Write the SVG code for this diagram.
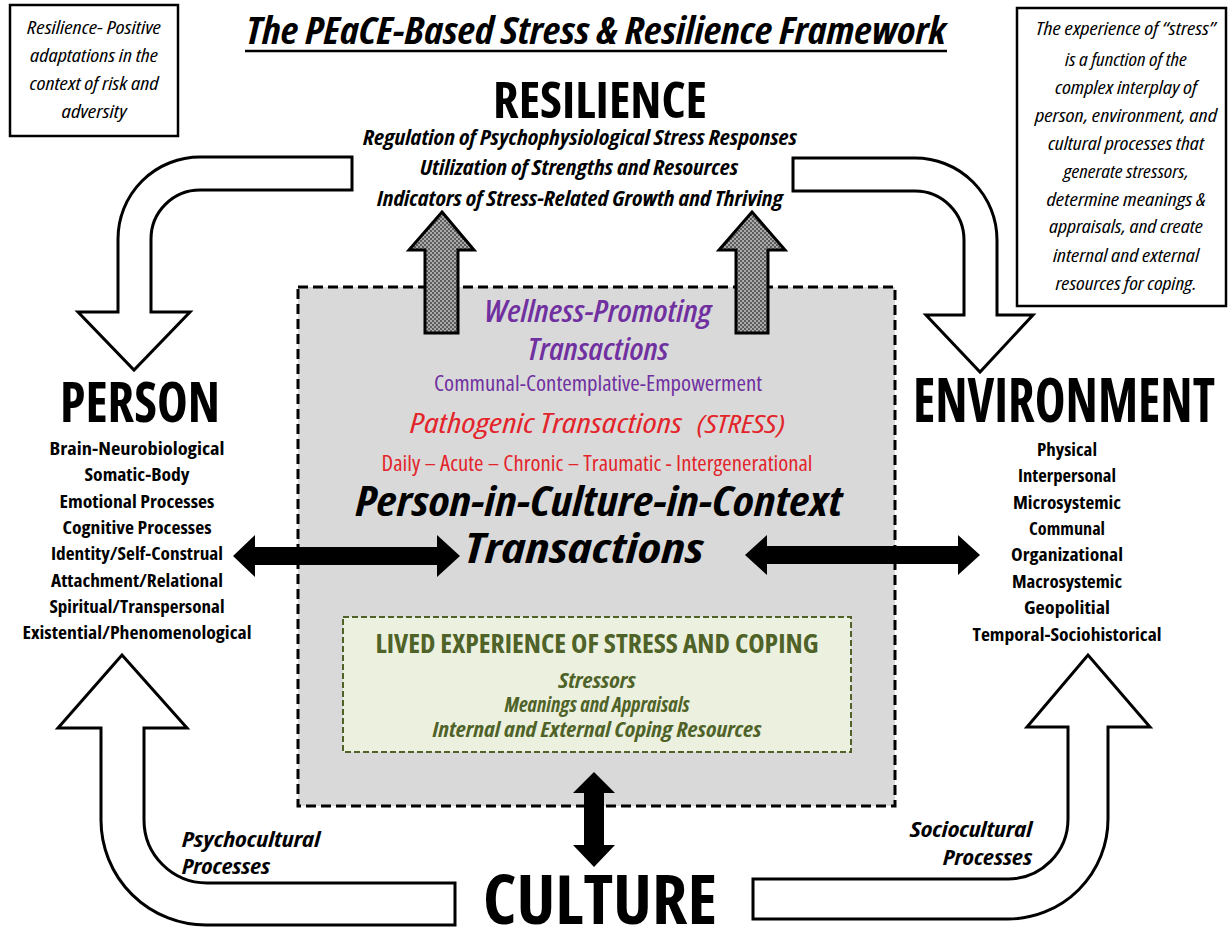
<svg xmlns="http://www.w3.org/2000/svg" width="1229" height="930" viewBox="0 0 1229 930">
  <style>
    text { font-family: "Liberation Sans Narrow", "Open Sans", "Liberation Sans", sans-serif; font-stretch: condensed; fill: #000; }
    .b { font-weight: bold; }
    .i { font-style: italic; }
    .m { text-anchor: middle; }
    .e { text-anchor: end; }
    .note { font-size: 19px; font-style: italic; }
    .big { font-weight: bold; }
    .sub { font-size: 21px; font-weight: bold; font-style: italic; }
    .list { font-size: 18px; font-weight: bold; text-anchor: middle; }
    .purple { fill: #7030a0; }
    .red { fill: #e3242b; }
    .olive { fill: #4f6228; }
    .semi { font-weight: 600; }
    .med { font-weight: 500; }
    .frame { fill: #fff; stroke: #000; stroke-width: 2.5; }
    .flow { fill: #fff; stroke: #000; stroke-width: 3; stroke-linejoin: miter; }
    .solid { fill: #000; stroke: none; }
    .up { fill: url(#dots); stroke: #000; stroke-width: 3; }
  </style>
  <defs>
    <pattern id="dots" width="4" height="4" patternUnits="userSpaceOnUse">
      <rect width="4" height="4" fill="#ababab"/>
      <rect width="2" height="2" fill="#5c5c5c"/>
      <rect x="2" y="2" width="2" height="2" fill="#5c5c5c"/>
    </pattern>
  </defs>
  <rect width="1229" height="930" fill="#fff"/>

  <!-- title -->
  <g id="title">
    <text class="b i m" x="596" y="44" font-size="38" textLength="700" lengthAdjust="spacingAndGlyphs">The PEaCE-Based Stress &amp; Resilience Framework</text>
    <line x1="245" y1="51" x2="947" y2="51" stroke="#000" stroke-width="2.5"/>
  </g>

  <!-- definition notes -->
  <g id="note-resilience">
    <rect class="frame" x="10" y="5" width="168" height="131"/>
    <text class="note m" x="94" y="34" textLength="134" lengthAdjust="spacingAndGlyphs">Resilience- Positive</text>
    <text class="note m" x="94" y="62" textLength="128" lengthAdjust="spacingAndGlyphs">adaptations in the</text>
    <text class="note m" x="94" y="90" textLength="129" lengthAdjust="spacingAndGlyphs">context of risk and</text>
    <text class="note m" x="94" y="118" textLength="65" lengthAdjust="spacingAndGlyphs">adversity</text>
  </g>
  <g id="note-stress">
    <rect class="frame" x="1017" y="8" width="209" height="298"/>
    <text class="note m" x="1126" y="35" textLength="180" lengthAdjust="spacingAndGlyphs">The experience of “stress”</text>
    <text class="note m" x="1126" y="66" textLength="122" lengthAdjust="spacingAndGlyphs">is a function of the</text>
    <text class="note m" x="1126" y="94" textLength="142" lengthAdjust="spacingAndGlyphs">complex interplay of</text>
    <text class="note m" x="1126" y="122" textLength="182" lengthAdjust="spacingAndGlyphs">person, environment, and</text>
    <text class="note m" x="1126" y="150" textLength="156" lengthAdjust="spacingAndGlyphs">cultural processes that</text>
    <text class="note m" x="1126" y="178" textLength="125" lengthAdjust="spacingAndGlyphs">generate stressors,</text>
    <text class="note m" x="1126" y="206" textLength="159" lengthAdjust="spacingAndGlyphs">determine meanings &amp;</text>
    <text class="note m" x="1126" y="233" textLength="154" lengthAdjust="spacingAndGlyphs">appraisals, and create</text>
    <text class="note m" x="1126" y="262" textLength="146" lengthAdjust="spacingAndGlyphs">internal and external</text>
    <text class="note m" x="1126" y="290" textLength="141" lengthAdjust="spacingAndGlyphs">resources for coping.</text>
  </g>

  <!-- central transaction field -->
  <g id="transactions">
    <rect x="298" y="287" width="597" height="519" fill="#d9d9d9" stroke="#000" stroke-width="3" stroke-dasharray="10 5"/>
    <text class="i m purple semi" x="598" y="322" font-size="30" textLength="227" lengthAdjust="spacingAndGlyphs">Wellness-Promoting</text>
    <text class="i m purple semi" x="598" y="360" font-size="30" textLength="141" lengthAdjust="spacingAndGlyphs">Transactions</text>
    <text class="m purple med" x="598" y="391" font-size="21" textLength="328" lengthAdjust="spacingAndGlyphs">Communal-Contemplative-Empowerment</text>
    <text class="i red med" x="410" y="433" font-size="28" textLength="272" lengthAdjust="spacingAndGlyphs">Pathogenic Transactions</text>
    <text class="i red" x="697" y="433" font-size="26" textLength="88" lengthAdjust="spacingAndGlyphs">(STRESS)</text>
    <text class="m red med" x="597" y="471" font-size="22" textLength="431" lengthAdjust="spacingAndGlyphs">Daily – Acute – Chronic – Traumatic - Intergenerational</text>
    <text class="b i m" x="599" y="516" font-size="41" textLength="487" lengthAdjust="spacingAndGlyphs">Person-in-Culture-in-Context</text>
    <text class="b i m" x="584" y="563" font-size="41" textLength="239" lengthAdjust="spacingAndGlyphs">Transactions</text>
  </g>

  <g id="lived-experience">
    <rect x="343" y="617" width="508" height="135" fill="#ebf1de" stroke="#4f6228" stroke-width="2" stroke-dasharray="6 3"/>
    <text class="b m olive" x="597" y="653" font-size="26" textLength="443" lengthAdjust="spacingAndGlyphs">LIVED EXPERIENCE OF STRESS AND COPING</text>
    <text class="b i m olive" x="597" y="688" font-size="21" textLength="77" lengthAdjust="spacingAndGlyphs">Stressors</text>
    <text class="b i m olive" x="597" y="712" font-size="21" textLength="185" lengthAdjust="spacingAndGlyphs">Meanings and Appraisals</text>
    <text class="b i m olive" x="597" y="737" font-size="21" textLength="329" lengthAdjust="spacingAndGlyphs">Internal and External Coping Resources</text>
  </g>

  <!-- outcome node -->
  <g id="resilience">
    <text class="big m" x="600" y="118" font-size="50" textLength="214" lengthAdjust="spacingAndGlyphs">RESILIENCE</text>
    <text class="sub m" x="580" y="145" textLength="434" lengthAdjust="spacingAndGlyphs">Regulation of Psychophysiological Stress Responses</text>
    <text class="sub m" x="579" y="175" textLength="318" lengthAdjust="spacingAndGlyphs">Utilization of Strengths and Resources</text>
    <text class="sub m" x="580" y="206" textLength="406" lengthAdjust="spacingAndGlyphs">Indicators of Stress-Related Growth and Thriving</text>
  </g>

  <g id="person">
    <text class="big m" x="140" y="422" font-size="56" textLength="160" lengthAdjust="spacingAndGlyphs">PERSON</text>
    <text class="list" x="137" y="455" textLength="175" lengthAdjust="spacingAndGlyphs">Brain-Neurobiological</text>
    <text class="list" x="137" y="481" textLength="105" lengthAdjust="spacingAndGlyphs">Somatic-Body</text>
    <text class="list" x="137" y="508" textLength="155" lengthAdjust="spacingAndGlyphs">Emotional Processes</text>
    <text class="list" x="137" y="534" textLength="149" lengthAdjust="spacingAndGlyphs">Cognitive Processes</text>
    <text class="list" x="137" y="560" textLength="172" lengthAdjust="spacingAndGlyphs">Identity/Self-Construal</text>
    <text class="list" x="137" y="587" textLength="172" lengthAdjust="spacingAndGlyphs">Attachment/Relational</text>
    <text class="list" x="137" y="613" textLength="175" lengthAdjust="spacingAndGlyphs">Spiritual/Transpersonal</text>
    <text class="list" x="137" y="639" textLength="229" lengthAdjust="spacingAndGlyphs">Existential/Phenomenological</text>
  </g>

  <g id="environment">
    <text class="big m" x="1064" y="422" font-size="60" textLength="302" lengthAdjust="spacingAndGlyphs">ENVIRONMENT</text>
    <text class="list" x="1067" y="456" textLength="60" lengthAdjust="spacingAndGlyphs">Physical</text>
    <text class="list" x="1067" y="482" textLength="98" lengthAdjust="spacingAndGlyphs">Interpersonal</text>
    <text class="list" x="1067" y="509" textLength="108" lengthAdjust="spacingAndGlyphs">Microsystemic</text>
    <text class="list" x="1067" y="535" textLength="76" lengthAdjust="spacingAndGlyphs">Communal</text>
    <text class="list" x="1067" y="561" textLength="112" lengthAdjust="spacingAndGlyphs">Organizational</text>
    <text class="list" x="1067" y="588" textLength="110" lengthAdjust="spacingAndGlyphs">Macrosystemic</text>
    <text class="list" x="1067" y="614" textLength="86" lengthAdjust="spacingAndGlyphs">Geopolitial</text>
    <text class="list" x="1067" y="641" textLength="189" lengthAdjust="spacingAndGlyphs">Temporal-Sociohistorical</text>
  </g>

  <g id="culture">
    <text class="big m" x="600" y="924" font-size="68" textLength="234" lengthAdjust="spacingAndGlyphs">CULTURE</text>
  </g>

  <!-- connectors -->
  <g id="connectors">
    <!-- resilience feeding back to person and environment -->
    <path class="flow" d="M352,157 L200,157 A82,82 0 0 0 118,239 L118,312 L78,312 L134,370 L190,312 L151,312 L151,239 A49,49 0 0 1 200,190 L352,190 Z"/>
    <path class="flow" d="M793,158 L915,158 A82,82 0 0 1 997,240 L997,315 L1033,315 L980,372 L926,315 L964,315 L964,240 A49,49 0 0 0 915,191 L793,191 Z"/>
    <!-- culture feeding person and environment -->
    <path class="flow" d="M455,925 L207,925 A105,105 0 0 1 101,820 L101,728 L58,728 L122,655 L187,728 L144,728 L144,820 A63,63 0 0 0 207,883 L455,883 Z"/>
    <path class="flow" d="M753,919 L1008,919 A100,100 0 0 0 1108,819 L1108,727 L1150,727 L1088,655 L1027,727 L1068,727 L1068,819 A60,60 0 0 1 1008,879 L753,879 Z"/>
    <!-- transactions generating resilience -->
    <polygon class="up" points="442,212 474,250 458,250 458,333 425,333 425,250 409,250"/>
    <polygon class="up" points="752,212 785,250 768,250 768,333 736,333 736,250 719,250"/>
    <!-- bidirectional links -->
    <polygon class="solid" points="233,556 255,535 255,547 437,547 437,535 460,556 437,577 437,565 255,565 255,577"/>
    <polygon class="solid" points="745,555 767,535 767,546 958,546 958,535 980,555 958,575 958,564 767,564 767,575"/>
    <polygon class="solid" points="594,772 615,793 604,793 604,845 615,845 594,867 573,845 584,845 584,793 573,793"/>
  </g>

  <g id="process-labels">
    <text class="sub" x="182" y="847" textLength="138" lengthAdjust="spacingAndGlyphs">Psychocultural</text>
    <text class="sub" x="182" y="874" textLength="88" lengthAdjust="spacingAndGlyphs">Processes</text>
    <text class="sub e" x="1032" y="837" textLength="122" lengthAdjust="spacingAndGlyphs">Sociocultural</text>
    <text class="sub e" x="1032" y="865" textLength="89" lengthAdjust="spacingAndGlyphs">Processes</text>
  </g>
</svg>
